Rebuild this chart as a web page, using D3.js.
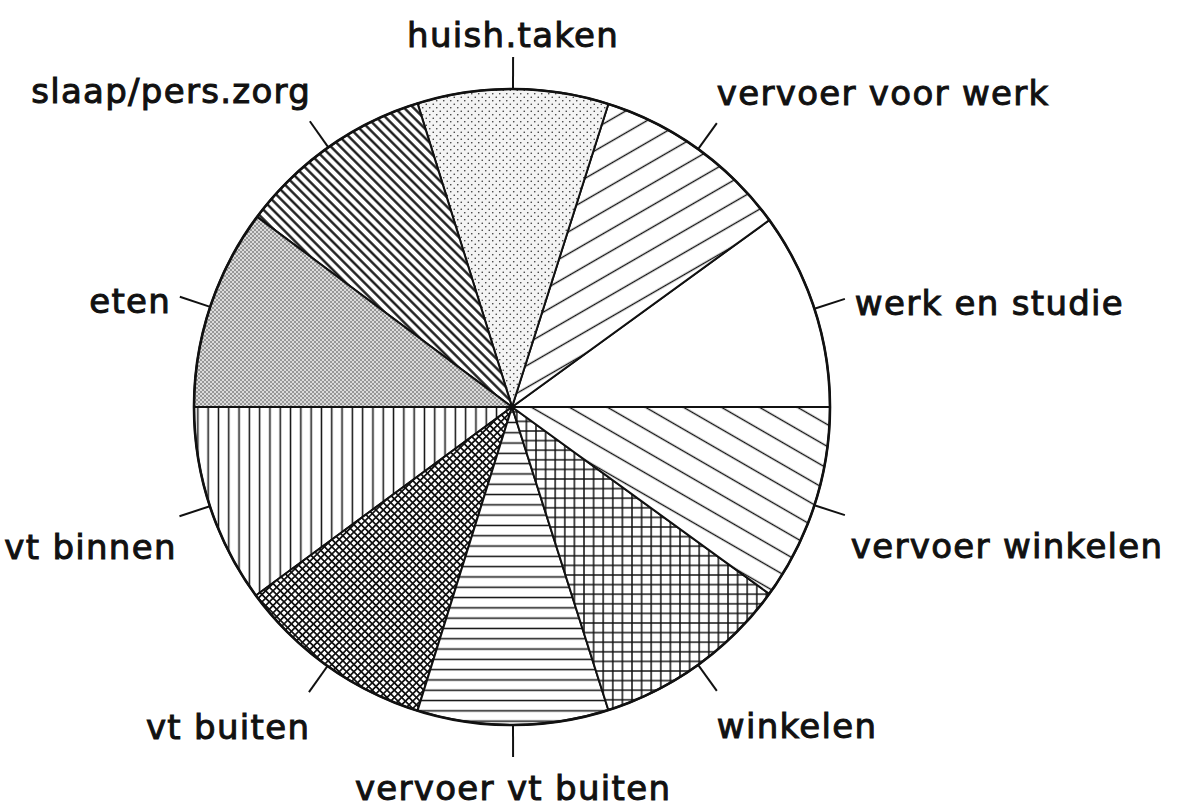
<!DOCTYPE html>
<html>
<head>
<meta charset="utf-8">
<script src="https://cdn.jsdelivr.net/npm/d3@7"></script>
<style>
    body { margin: 0; background: #ffffff; }
    text { font-family: "DejaVu Sans", sans-serif; }
</style>
</head>
<body>
<div id="pie"></div>
<script>
// time use categories, counterclockwise from 3 o'clock
const categories = ["werk en studie", "vervoer voor werk", "huish.taken", "slaap/pers.zorg", "eten",
    "vt binnen", "vt buiten", "vervoer vt buiten", "winkelen", "vervoer winkelen"];
// share of time (%)
const shares = [10.0, 10.1, 9.7, 10.0, 10.2, 10.1, 10.1, 9.7, 10.1, 10.0];
// fill pattern of each slice
const fills = ["none", "wideRise", "sparseDots", "denseFall", "denseDots",
    "vLines", "diagGrid", "hLines", "squareGrid", "wideFall"];

function drawPie() {
    const overall_width = 1178
    const overall_height = 807
    const center = {x: 512, y: 407}
    const radius = 318
    const tickLen = 32
    const spacing = 1.3

    let outerSvg = d3.select("#pie")
        .append("svg")
        .attr("width", overall_width)
        .attr("height", overall_height);

    outerSvg.append("rect")
        .attr("width", "100%")
        .attr("height", "100%")
        .attr("fill", "#ffffff");

    //Patterns
    let defs = outerSvg.append("defs");

    function linePattern(id, gap, angle, width) {
        let p = defs.append("pattern")
            .attr("id", id)
            .attr("patternUnits", "userSpaceOnUse")
            .attr("width", 20)
            .attr("height", gap)
            .attr("patternTransform", `rotate(${angle})`);
        p.append("rect").attr("width", 20).attr("height", gap).attr("fill", "#fff");
        p.append("line")
            .attr("x1", 0).attr("x2", 20)
            .attr("y1", gap / 2).attr("y2", gap / 2)
            .attr("stroke", "#111")
            .attr("stroke-width", width);
    }

    function gridPattern(id, gap, angle, width) {
        let p = defs.append("pattern")
            .attr("id", id)
            .attr("patternUnits", "userSpaceOnUse")
            .attr("width", gap)
            .attr("height", gap)
            .attr("patternTransform", `rotate(${angle})`);
        p.append("rect").attr("width", gap).attr("height", gap).attr("fill", "#fff");
        p.append("path")
            .attr("d", `M0,${gap / 2}H${gap}M${gap / 2},0V${gap}`)
            .attr("stroke", "#111")
            .attr("stroke-width", width);
    }

    function dotPattern(id, size, r, bg) {
        let p = defs.append("pattern")
            .attr("id", id)
            .attr("patternUnits", "userSpaceOnUse")
            .attr("width", size)
            .attr("height", size);
        p.append("rect").attr("width", size).attr("height", size).attr("fill", bg);
        p.append("circle").attr("cx", size / 4).attr("cy", size / 4).attr("r", r).attr("fill", "#333");
        p.append("circle").attr("cx", size * 3 / 4).attr("cy", size * 3 / 4).attr("r", r).attr("fill", "#333");
    }

    linePattern("wideRise", 19, -30, 1.4);
    linePattern("wideFall", 19, 30, 1.4);
    linePattern("denseFall", 6.6, 45, 2.3);
    linePattern("vLines", 10.3, 90, 1.5);
    linePattern("hLines", 10.3, 0, 1.5);
    gridPattern("squareGrid", 9.6, 0, 1.5);
    gridPattern("diagGrid", 5.2, 45, 1.7);
    dotPattern("denseDots", 4, 0.75, "#dcdcdc");
    dotPattern("sparseDots", 7, 0.8, "#f4f4f4");

    let svg = outerSvg.append("g")
        .attr("transform", `translate(${center.x}, ${center.y})`);

    let data = categories.map(function(c, i) {
        return {label: c, value: shares[i], fill: fills[i]};
    });

    let pie = d3.pie()
        .sort(null)
        .value(function(d) {return d.value})
        .startAngle(Math.PI / 2)
        .endAngle(Math.PI / 2 - 2 * Math.PI);

    let arc = d3.arc().innerRadius(0).outerRadius(radius);
    let arcs = pie(data);

    svg.selectAll("path.slice")
        .data(arcs)
        .enter()
        .append("path")
        .attr("class", "slice")
        .attr("d", arc)
        .attr("fill", function(d) {return d.data.fill === "none" ? "#fff" : `url(#${d.data.fill})`})
        .attr("stroke", "#111")
        .attr("stroke-width", 2)
        .attr("stroke-linejoin", "round");

    //outer ring
    svg.append("circle")
        .attr("r", radius)
        .attr("fill", "none")
        .attr("stroke", "#111")
        .attr("stroke-width", 2.6);

    //leader ticks and labels
    let labels = svg.selectAll("g.label")
        .data(arcs)
        .enter()
        .append("g")
        .attr("class", "label");

    function mid(d) {return (d.startAngle + d.endAngle) / 2}

    labels.append("line")
        .attr("x1", function(d) {return Math.sin(mid(d)) * radius})
        .attr("y1", function(d) {return -Math.cos(mid(d)) * radius})
        .attr("x2", function(d) {return Math.sin(mid(d)) * (radius + tickLen)})
        .attr("y2", function(d) {return -Math.cos(mid(d)) * (radius + tickLen)})
        .attr("stroke", "#111")
        .attr("stroke-width", 2);

    labels.append("text")
        .each(function(d) {
            let a = mid(d);
            let c = Math.sin(a), s = Math.cos(a);
            let x = c * (radius + tickLen), y = -s * (radius + tickLen);
            let anchor, dx, dy;
            if (Math.abs(c) < 0.2) {
                anchor = "middle"; dx = 0; dy = s > 0 ? -10 : 43;
            } else {
                anchor = c > 0 ? "start" : "end";
                if (Math.abs(s) > 0.6) {
                    dx = 0; dy = s > 0 ? -18 : 47;
                } else if (s > 0) {
                    dx = c > 0 ? 10 : -10; dy = 16;
                } else {
                    dx = c > 0 ? 6 : -4; dy = 43;
                }
            }
            // trailing letter-spacing shifts end-anchored text
            if (anchor === "end") dx += spacing;
            d3.select(this)
                .attr("x", x + dx)
                .attr("y", y + dy)
                .attr("text-anchor", anchor);
        })
        .style("font-size", "34px")
        .style("letter-spacing", `${spacing}px`)
        .attr("fill", "#111")
        .attr("stroke", "#111")
        .attr("stroke-width", 1)
        .text(function(d) {return d.data.label});
}

drawPie();
</script>
</body>
</html>
